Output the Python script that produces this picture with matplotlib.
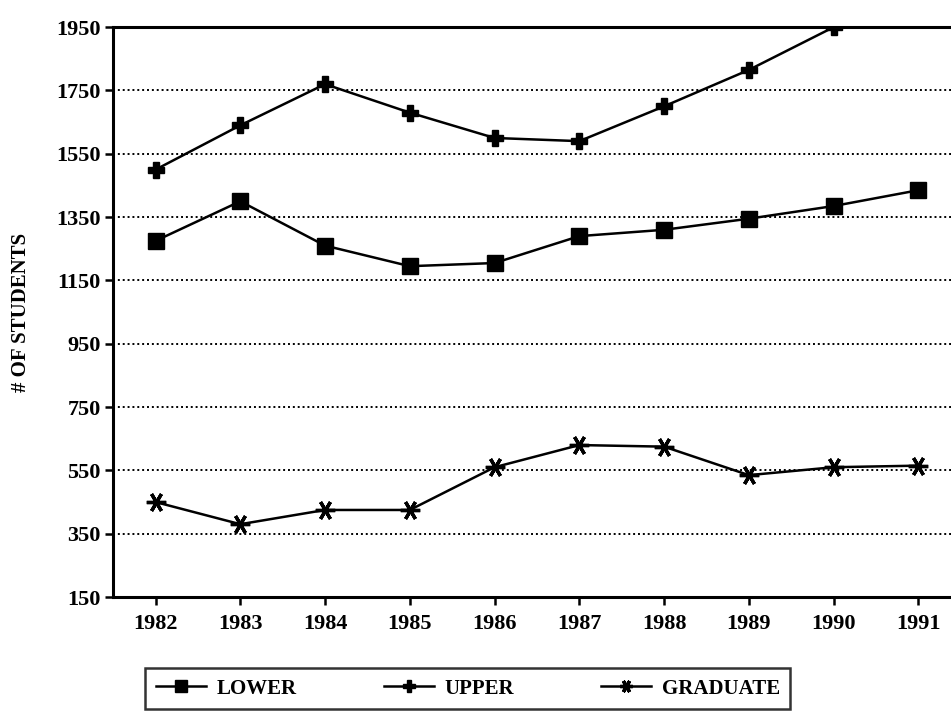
import numpy as np
import matplotlib
matplotlib.use('Agg')
import matplotlib.pyplot as plt

# Данные
years = [1982, 1983, 1984, 1985, 1986, 1987, 1988, 1989, 1990, 1991]
lower = [1275, 1400, 1260, 1195, 1205, 1290, 1310, 1345, 1385, 1435]
upper = [1500, 1640, 1770, 1680, 1600, 1590, 1700, 1815, 1950, np.nan]
graduate = [450, 380, 425, 425, 560, 630, 625, 535, 560, 565]
y_ticks = [150, 350, 550, 750, 950, 1150, 1350, 1550, 1750, 1950]

plt.rcParams['font.family'] = ['Liberation Serif', 'DejaVu Serif']
plt.rcParams['font.weight'] = 'bold'


def main():
    fig = plt.figure(figsize=(9.51, 7.15), dpi=100)
    ax = fig.add_axes([0.119, 0.165, 0.885, 0.797])

    ax.plot(years, lower, color='black', lw=1.8, marker='s', ms=11,
            label='LOWER')
    ax.plot(years, upper, color='black', lw=1.8, marker='P', ms=11,
            label='UPPER')
    ax.plot(years, graduate, color='black', lw=1.8, marker=(6, 2, 90),
            ms=14, mew=2.4, label='GRADUATE')

    ax.set_xlim(1981.5, 1991.43)
    ax.set_ylim(150, 1950)
    ax.set_xticks(years)
    ax.set_yticks(y_ticks)

    # Пунктирная сетка
    for v in y_ticks[1:-1]:
        ax.axhline(v, color='black', lw=1.4, ls=(0, (1, 1.5)), zorder=0)

    for side in ['left', 'bottom', 'top']:
        ax.spines[side].set_linewidth(2.2)
    ax.spines['right'].set_visible(False)
    ax.tick_params(axis='both', direction='out', length=6, width=1.8,
                   labelsize=16)
    ax.tick_params(axis='x', pad=6)
    ax.tick_params(axis='y', pad=3)

    ax.set_ylabel('# OF STUDENTS', fontsize=15, fontweight='bold',
                  labelpad=18)

    leg = fig.legend(loc='upper left', bbox_to_anchor=(0.142, 0.08), ncol=3,
                     fontsize=15, frameon=True, fancybox=False,
                     handlelength=2.4, columnspacing=4.2, borderpad=0.5,
                     handletextpad=0.5)
    leg.get_frame().set_edgecolor('black')
    leg.get_frame().set_linewidth(1.8)
    for h in leg.legend_handles:
        h.set_markersize(9)

    fig.savefig('out.png', dpi=100)


if __name__ == '__main__':
    main()
